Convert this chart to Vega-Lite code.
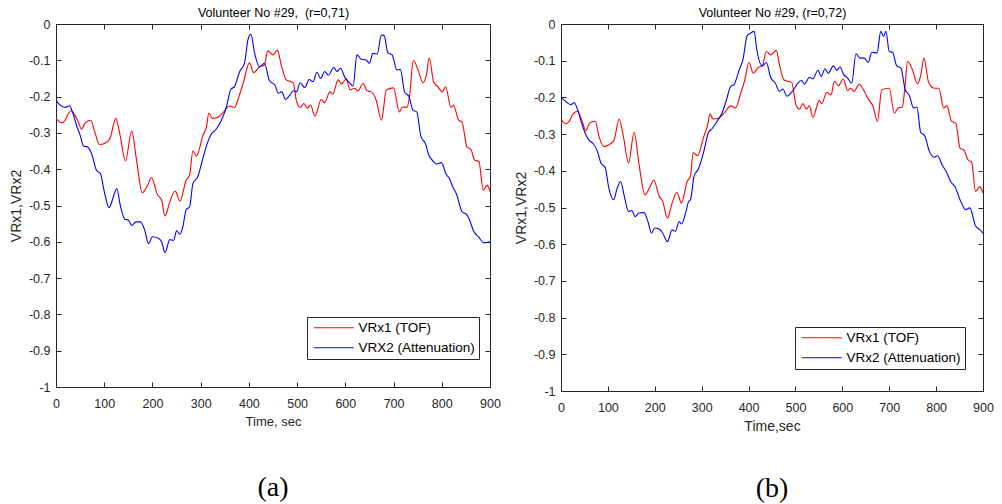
{
  "$schema": "https://vega.github.io/schema/vega-lite/v6.json",
  "background": "white",
  "padding": {"left": 8, "top": 6, "right": 5, "bottom": 5},
  "spacing": 12,
  "config": {
    "font": "Liberation Sans",
    "view": {"stroke": "#262626", "strokeWidth": 1},
    "axis": {"grid": false, "labelFlush": false, "labelColor": "#262626", "titleColor": "#262626", "tickColor": "#262626", "labelFontSize": 12.5, "titleFontSize": 13, "titleFontWeight": "normal", "domain": false, "tickSize": -5, "labelFont": "Liberation Sans", "titleFont": "Liberation Sans"},
    "legend": {"labelFont": "Liberation Sans"}
  },
  "hconcat": [
    {
      "width": 434, "height": 363,
      "title": {"text": "(a)", "orient": "bottom", "font": "Liberation Serif", "fontSize": 28, "fontWeight": "normal", "color": "#000000", "offset": 45},
      "layer": [
        {
          "data": {"values": [
            {"s":"VRx1 (TOF)","t":0,"v":-0.26},{"s":"VRx1 (TOF)","t":12,"v":-0.272},{"s":"VRx1 (TOF)","t":19,"v":-0.265},{"s":"VRx1 (TOF)","t":26,"v":-0.246},{"s":"VRx1 (TOF)","t":32,"v":-0.239},{"s":"VRx1 (TOF)","t":39,"v":-0.251},{"s":"VRx1 (TOF)","t":46,"v":-0.269},{"s":"VRx1 (TOF)","t":53,"v":-0.29},{"s":"VRx1 (TOF)","t":60,"v":-0.274},{"s":"VRx1 (TOF)","t":72,"v":-0.265},{"s":"VRx1 (TOF)","t":81,"v":-0.30},{"s":"VRx1 (TOF)","t":90,"v":-0.332},{"s":"VRx1 (TOF)","t":101,"v":-0.329},{"s":"VRx1 (TOF)","t":112,"v":-0.315},{"s":"VRx1 (TOF)","t":124,"v":-0.26},{"s":"VRx1 (TOF)","t":132,"v":-0.30},{"s":"VRx1 (TOF)","t":144,"v":-0.377},{"s":"VRx1 (TOF)","t":157,"v":-0.295},{"s":"VRx1 (TOF)","t":167,"v":-0.375},{"s":"VRx1 (TOF)","t":179,"v":-0.465},{"s":"VRx1 (TOF)","t":190,"v":-0.444},{"s":"VRx1 (TOF)","t":198,"v":-0.423},{"s":"VRx1 (TOF)","t":210,"v":-0.469},{"s":"VRx1 (TOF)","t":219,"v":-0.485},{"s":"VRx1 (TOF)","t":226,"v":-0.529},{"s":"VRx1 (TOF)","t":236,"v":-0.49},{"s":"VRx1 (TOF)","t":247,"v":-0.46},{"s":"VRx1 (TOF)","t":257,"v":-0.488},{"s":"VRx1 (TOF)","t":270,"v":-0.43},{"s":"VRx1 (TOF)","t":277,"v":-0.416},{"s":"VRx1 (TOF)","t":284,"v":-0.349},{"s":"VRx1 (TOF)","t":291,"v":-0.364},{"s":"VRx1 (TOF)","t":305,"v":-0.306},{"s":"VRx1 (TOF)","t":312,"v":-0.283},{"s":"VRx1 (TOF)","t":317,"v":-0.245},{"s":"VRx1 (TOF)","t":324,"v":-0.26},{"s":"VRx1 (TOF)","t":336,"v":-0.257},{"s":"VRx1 (TOF)","t":346,"v":-0.245},{"s":"VRx1 (TOF)","t":360,"v":-0.226},{"s":"VRx1 (TOF)","t":370,"v":-0.23},{"s":"VRx1 (TOF)","t":381,"v":-0.193},{"s":"VRx1 (TOF)","t":389,"v":-0.159},{"s":"VRx1 (TOF)","t":401,"v":-0.107},{"s":"VRx1 (TOF)","t":410,"v":-0.134},{"s":"VRx1 (TOF)","t":422,"v":-0.118},{"s":"VRx1 (TOF)","t":432,"v":-0.113},{"s":"VRx1 (TOF)","t":439,"v":-0.074},{"s":"VRx1 (TOF)","t":450,"v":-0.085},{"s":"VRx1 (TOF)","t":459,"v":-0.072},{"s":"VRx1 (TOF)","t":468,"v":-0.118},{"s":"VRx1 (TOF)","t":477,"v":-0.153},{"s":"VRx1 (TOF)","t":492,"v":-0.162},{"s":"VRx1 (TOF)","t":499,"v":-0.214},{"s":"VRx1 (TOF)","t":507,"v":-0.23},{"s":"VRx1 (TOF)","t":514,"v":-0.219},{"s":"VRx1 (TOF)","t":521,"v":-0.232},{"s":"VRx1 (TOF)","t":528,"v":-0.223},{"s":"VRx1 (TOF)","t":537,"v":-0.254},{"s":"VRx1 (TOF)","t":550,"v":-0.208},{"s":"VRx1 (TOF)","t":557,"v":-0.217},{"s":"VRx1 (TOF)","t":568,"v":-0.187},{"s":"VRx1 (TOF)","t":574,"v":-0.193},{"s":"VRx1 (TOF)","t":585,"v":-0.154},{"s":"VRx1 (TOF)","t":592,"v":-0.165},{"s":"VRx1 (TOF)","t":602,"v":-0.151},{"s":"VRx1 (TOF)","t":610,"v":-0.182},{"s":"VRx1 (TOF)","t":619,"v":-0.177},{"s":"VRx1 (TOF)","t":626,"v":-0.184},{"s":"VRx1 (TOF)","t":637,"v":-0.164},{"s":"VRx1 (TOF)","t":645,"v":-0.184},{"s":"VRx1 (TOF)","t":654,"v":-0.187},{"s":"VRx1 (TOF)","t":664,"v":-0.21},{"s":"VRx1 (TOF)","t":675,"v":-0.265},{"s":"VRx1 (TOF)","t":685,"v":-0.182},{"s":"VRx1 (TOF)","t":700,"v":-0.176},{"s":"VRx1 (TOF)","t":712,"v":-0.242},{"s":"VRx1 (TOF)","t":719,"v":-0.228},{"s":"VRx1 (TOF)","t":728,"v":-0.23},{"s":"VRx1 (TOF)","t":733,"v":-0.20},{"s":"VRx1 (TOF)","t":741,"v":-0.101},{"s":"VRx1 (TOF)","t":751,"v":-0.127},{"s":"VRx1 (TOF)","t":761,"v":-0.162},{"s":"VRx1 (TOF)","t":768,"v":-0.141},{"s":"VRx1 (TOF)","t":774,"v":-0.093},{"s":"VRx1 (TOF)","t":783,"v":-0.159},{"s":"VRx1 (TOF)","t":792,"v":-0.173},{"s":"VRx1 (TOF)","t":801,"v":-0.187},{"s":"VRx1 (TOF)","t":808,"v":-0.173},{"s":"VRx1 (TOF)","t":819,"v":-0.23},{"s":"VRx1 (TOF)","t":824,"v":-0.223},{"s":"VRx1 (TOF)","t":835,"v":-0.265},{"s":"VRx1 (TOF)","t":842,"v":-0.27},{"s":"VRx1 (TOF)","t":852,"v":-0.338},{"s":"VRx1 (TOF)","t":861,"v":-0.347},{"s":"VRx1 (TOF)","t":868,"v":-0.375},{"s":"VRx1 (TOF)","t":877,"v":-0.379},{"s":"VRx1 (TOF)","t":886,"v":-0.458},{"s":"VRx1 (TOF)","t":894,"v":-0.444},{"s":"VRx1 (TOF)","t":900,"v":-0.462}
          ]},
          "mark": {"type": "line", "interpolate": "monotone", "strokeWidth": 1.1, "clip": true},
          "encoding": {
            "x": {"field": "t", "type": "quantitative", "scale": {"domain": [0, 900], "nice": false}, "axis": {"orient": "bottom", "title": "Time, sec", "values": [0,100,200,300,400,500,600,700,800,900], "labelPadding": 15, "titlePadding": 6}},
            "y": {"field": "v", "type": "quantitative", "scale": {"domain": [-1, 0], "nice": false}, "axis": {"orient": "left", "title": "VRx1,VRx2", "titleFontSize": 14, "values": [0,-0.1,-0.2,-0.3,-0.4,-0.5,-0.6,-0.7,-0.8,-0.9,-1], "labelExpr": "'' + datum.value", "labelPadding": 11, "titlePadding": 5}},
            "color": {"field": "s", "type": "nominal", "scale": {"domain": ["VRx1 (TOF)", "VRX2 (Attenuation)"], "range": ["#ff0000", "#0000ff"]},
              "legend": {"title": null, "orient": "none", "legendX": 251, "legendY": 293, "direction": "vertical", "symbolType": "M-1,0H9", "symbolSize": 64, "symbolStrokeWidth": 1.2, "strokeColor": "#262626", "fillColor": "#ffffff", "padding": 4, "labelFontSize": 13.5, "labelColor": "#000000", "rowPadding": 5, "labelOffset": 34}}
          }
        },
        {
          "data": {"values": [
            {"s":"VRX2 (Attenuation)","t":0,"v":-0.21},{"s":"VRX2 (Attenuation)","t":8,"v":-0.223},{"s":"VRX2 (Attenuation)","t":19,"v":-0.23},{"s":"VRX2 (Attenuation)","t":28,"v":-0.225},{"s":"VRX2 (Attenuation)","t":34,"v":-0.242},{"s":"VRX2 (Attenuation)","t":43,"v":-0.281},{"s":"VRX2 (Attenuation)","t":50,"v":-0.306},{"s":"VRX2 (Attenuation)","t":57,"v":-0.336},{"s":"VRX2 (Attenuation)","t":65,"v":-0.338},{"s":"VRX2 (Attenuation)","t":74,"v":-0.358},{"s":"VRX2 (Attenuation)","t":84,"v":-0.403},{"s":"VRX2 (Attenuation)","t":92,"v":-0.412},{"s":"VRX2 (Attenuation)","t":101,"v":-0.467},{"s":"VRX2 (Attenuation)","t":110,"v":-0.506},{"s":"VRX2 (Attenuation)","t":119,"v":-0.476},{"s":"VRX2 (Attenuation)","t":126,"v":-0.453},{"s":"VRX2 (Attenuation)","t":134,"v":-0.504},{"s":"VRX2 (Attenuation)","t":143,"v":-0.538},{"s":"VRX2 (Attenuation)","t":150,"v":-0.54},{"s":"VRX2 (Attenuation)","t":157,"v":-0.555},{"s":"VRX2 (Attenuation)","t":166,"v":-0.545},{"s":"VRX2 (Attenuation)","t":175,"v":-0.545},{"s":"VRX2 (Attenuation)","t":184,"v":-0.568},{"s":"VRX2 (Attenuation)","t":192,"v":-0.605},{"s":"VRX2 (Attenuation)","t":200,"v":-0.586},{"s":"VRX2 (Attenuation)","t":212,"v":-0.59},{"s":"VRX2 (Attenuation)","t":219,"v":-0.6},{"s":"VRX2 (Attenuation)","t":226,"v":-0.63},{"s":"VRX2 (Attenuation)","t":236,"v":-0.594},{"s":"VRX2 (Attenuation)","t":244,"v":-0.596},{"s":"VRX2 (Attenuation)","t":250,"v":-0.57},{"s":"VRX2 (Attenuation)","t":257,"v":-0.579},{"s":"VRX2 (Attenuation)","t":263,"v":-0.559},{"s":"VRX2 (Attenuation)","t":270,"v":-0.511},{"s":"VRX2 (Attenuation)","t":277,"v":-0.504},{"s":"VRX2 (Attenuation)","t":284,"v":-0.439},{"s":"VRX2 (Attenuation)","t":294,"v":-0.421},{"s":"VRX2 (Attenuation)","t":305,"v":-0.368},{"s":"VRX2 (Attenuation)","t":315,"v":-0.324},{"s":"VRX2 (Attenuation)","t":322,"v":-0.303},{"s":"VRX2 (Attenuation)","t":332,"v":-0.29},{"s":"VRX2 (Attenuation)","t":343,"v":-0.265},{"s":"VRX2 (Attenuation)","t":353,"v":-0.23},{"s":"VRX2 (Attenuation)","t":363,"v":-0.179},{"s":"VRX2 (Attenuation)","t":370,"v":-0.173},{"s":"VRX2 (Attenuation)","t":381,"v":-0.131},{"s":"VRX2 (Attenuation)","t":391,"v":-0.108},{"s":"VRX2 (Attenuation)","t":398,"v":-0.044},{"s":"VRX2 (Attenuation)","t":404,"v":-0.028},{"s":"VRX2 (Attenuation)","t":412,"v":-0.081},{"s":"VRX2 (Attenuation)","t":422,"v":-0.118},{"s":"VRX2 (Attenuation)","t":432,"v":-0.108},{"s":"VRX2 (Attenuation)","t":443,"v":-0.157},{"s":"VRX2 (Attenuation)","t":454,"v":-0.168},{"s":"VRX2 (Attenuation)","t":461,"v":-0.191},{"s":"VRX2 (Attenuation)","t":468,"v":-0.187},{"s":"VRX2 (Attenuation)","t":476,"v":-0.208},{"s":"VRX2 (Attenuation)","t":485,"v":-0.196},{"s":"VRX2 (Attenuation)","t":492,"v":-0.184},{"s":"VRX2 (Attenuation)","t":499,"v":-0.187},{"s":"VRX2 (Attenuation)","t":506,"v":-0.162},{"s":"VRX2 (Attenuation)","t":516,"v":-0.175},{"s":"VRX2 (Attenuation)","t":525,"v":-0.153},{"s":"VRX2 (Attenuation)","t":533,"v":-0.159},{"s":"VRX2 (Attenuation)","t":541,"v":-0.133},{"s":"VRX2 (Attenuation)","t":549,"v":-0.15},{"s":"VRX2 (Attenuation)","t":557,"v":-0.131},{"s":"VRX2 (Attenuation)","t":565,"v":-0.141},{"s":"VRX2 (Attenuation)","t":576,"v":-0.12},{"s":"VRX2 (Attenuation)","t":583,"v":-0.131},{"s":"VRX2 (Attenuation)","t":590,"v":-0.122},{"s":"VRX2 (Attenuation)","t":599,"v":-0.147},{"s":"VRX2 (Attenuation)","t":609,"v":-0.162},{"s":"VRX2 (Attenuation)","t":616,"v":-0.171},{"s":"VRX2 (Attenuation)","t":624,"v":-0.085},{"s":"VRX2 (Attenuation)","t":633,"v":-0.097},{"s":"VRX2 (Attenuation)","t":643,"v":-0.099},{"s":"VRX2 (Attenuation)","t":650,"v":-0.108},{"s":"VRX2 (Attenuation)","t":657,"v":-0.081},{"s":"VRX2 (Attenuation)","t":666,"v":-0.083},{"s":"VRX2 (Attenuation)","t":675,"v":-0.03},{"s":"VRX2 (Attenuation)","t":681,"v":-0.033},{"s":"VRX2 (Attenuation)","t":688,"v":-0.079},{"s":"VRX2 (Attenuation)","t":697,"v":-0.085},{"s":"VRX2 (Attenuation)","t":707,"v":-0.127},{"s":"VRX2 (Attenuation)","t":714,"v":-0.125},{"s":"VRX2 (Attenuation)","t":723,"v":-0.187},{"s":"VRX2 (Attenuation)","t":732,"v":-0.2},{"s":"VRX2 (Attenuation)","t":740,"v":-0.237},{"s":"VRX2 (Attenuation)","t":748,"v":-0.242},{"s":"VRX2 (Attenuation)","t":757,"v":-0.311},{"s":"VRX2 (Attenuation)","t":766,"v":-0.329},{"s":"VRX2 (Attenuation)","t":773,"v":-0.361},{"s":"VRX2 (Attenuation)","t":783,"v":-0.379},{"s":"VRX2 (Attenuation)","t":788,"v":-0.386},{"s":"VRX2 (Attenuation)","t":799,"v":-0.382},{"s":"VRX2 (Attenuation)","t":809,"v":-0.414},{"s":"VRX2 (Attenuation)","t":816,"v":-0.426},{"s":"VRX2 (Attenuation)","t":823,"v":-0.45},{"s":"VRX2 (Attenuation)","t":830,"v":-0.467},{"s":"VRX2 (Attenuation)","t":842,"v":-0.517},{"s":"VRX2 (Attenuation)","t":851,"v":-0.524},{"s":"VRX2 (Attenuation)","t":857,"v":-0.538},{"s":"VRX2 (Attenuation)","t":866,"v":-0.57},{"s":"VRX2 (Attenuation)","t":877,"v":-0.588},{"s":"VRX2 (Attenuation)","t":888,"v":-0.603},{"s":"VRX2 (Attenuation)","t":900,"v":-0.6}
          ]},
          "mark": {"type": "line", "interpolate": "monotone", "strokeWidth": 1.1, "clip": true},
          "encoding": {
            "x": {"field": "t", "type": "quantitative", "scale": {"domain": [0, 900], "nice": false}, "axis": {"orient": "top", "title": "Volunteer No #29,\u00a0 (r=0,71)", "titleFontSize": 12.5, "labels": false, "values": [0,100,200,300,400,500,600,700,800,900], "titlePadding": 4, "titleColor": "#000000"}},
            "y": {"field": "v", "type": "quantitative", "scale": {"domain": [-1, 0], "nice": false}, "axis": {"orient": "right", "title": null, "labels": false, "values": [0,-0.1,-0.2,-0.3,-0.4,-0.5,-0.6,-0.7,-0.8,-0.9,-1]}},
            "color": {"field": "s", "type": "nominal", "scale": {"domain": ["VRx1 (TOF)", "VRX2 (Attenuation)"], "range": ["#ff0000", "#0000ff"]}}
          }
        }
      ],
      "resolve": {"axis": {"x": "independent", "y": "independent"}}
    },
    {
      "width": 422, "height": 367,
      "title": {"text": "(b)", "orient": "bottom", "font": "Liberation Serif", "fontSize": 28, "fontWeight": "normal", "color": "#000000", "offset": 41},
      "layer": [
        {
          "data": {"values": [
            {"s":"VRx1 (TOF)","t":0,"v":-0.259},{"s":"VRx1 (TOF)","t":10,"v":-0.272},{"s":"VRx1 (TOF)","t":17,"v":-0.266},{"s":"VRx1 (TOF)","t":26,"v":-0.245},{"s":"VRx1 (TOF)","t":35,"v":-0.238},{"s":"VRx1 (TOF)","t":44,"v":-0.261},{"s":"VRx1 (TOF)","t":53,"v":-0.29},{"s":"VRx1 (TOF)","t":61,"v":-0.27},{"s":"VRx1 (TOF)","t":73,"v":-0.265},{"s":"VRx1 (TOF)","t":81,"v":-0.306},{"s":"VRx1 (TOF)","t":92,"v":-0.334},{"s":"VRx1 (TOF)","t":102,"v":-0.329},{"s":"VRx1 (TOF)","t":113,"v":-0.317},{"s":"VRx1 (TOF)","t":124,"v":-0.259},{"s":"VRx1 (TOF)","t":133,"v":-0.306},{"s":"VRx1 (TOF)","t":144,"v":-0.379},{"s":"VRx1 (TOF)","t":156,"v":-0.295},{"s":"VRx1 (TOF)","t":166,"v":-0.379},{"s":"VRx1 (TOF)","t":179,"v":-0.465},{"s":"VRx1 (TOF)","t":190,"v":-0.443},{"s":"VRx1 (TOF)","t":198,"v":-0.425},{"s":"VRx1 (TOF)","t":209,"v":-0.468},{"s":"VRx1 (TOF)","t":217,"v":-0.484},{"s":"VRx1 (TOF)","t":227,"v":-0.529},{"s":"VRx1 (TOF)","t":237,"v":-0.488},{"s":"VRx1 (TOF)","t":247,"v":-0.459},{"s":"VRx1 (TOF)","t":257,"v":-0.488},{"s":"VRx1 (TOF)","t":269,"v":-0.429},{"s":"VRx1 (TOF)","t":276,"v":-0.415},{"s":"VRx1 (TOF)","t":282,"v":-0.35},{"s":"VRx1 (TOF)","t":291,"v":-0.359},{"s":"VRx1 (TOF)","t":305,"v":-0.305},{"s":"VRx1 (TOF)","t":312,"v":-0.279},{"s":"VRx1 (TOF)","t":318,"v":-0.245},{"s":"VRx1 (TOF)","t":324,"v":-0.259},{"s":"VRx1 (TOF)","t":337,"v":-0.256},{"s":"VRx1 (TOF)","t":348,"v":-0.243},{"s":"VRx1 (TOF)","t":362,"v":-0.223},{"s":"VRx1 (TOF)","t":372,"v":-0.229},{"s":"VRx1 (TOF)","t":383,"v":-0.19},{"s":"VRx1 (TOF)","t":392,"v":-0.152},{"s":"VRx1 (TOF)","t":401,"v":-0.105},{"s":"VRx1 (TOF)","t":410,"v":-0.134},{"s":"VRx1 (TOF)","t":421,"v":-0.118},{"s":"VRx1 (TOF)","t":429,"v":-0.115},{"s":"VRx1 (TOF)","t":438,"v":-0.075},{"s":"VRx1 (TOF)","t":447,"v":-0.084},{"s":"VRx1 (TOF)","t":459,"v":-0.072},{"s":"VRx1 (TOF)","t":466,"v":-0.111},{"s":"VRx1 (TOF)","t":475,"v":-0.152},{"s":"VRx1 (TOF)","t":484,"v":-0.156},{"s":"VRx1 (TOF)","t":492,"v":-0.159},{"s":"VRx1 (TOF)","t":501,"v":-0.22},{"s":"VRx1 (TOF)","t":509,"v":-0.232},{"s":"VRx1 (TOF)","t":516,"v":-0.217},{"s":"VRx1 (TOF)","t":523,"v":-0.232},{"s":"VRx1 (TOF)","t":530,"v":-0.223},{"s":"VRx1 (TOF)","t":537,"v":-0.254},{"s":"VRx1 (TOF)","t":551,"v":-0.208},{"s":"VRx1 (TOF)","t":556,"v":-0.217},{"s":"VRx1 (TOF)","t":567,"v":-0.186},{"s":"VRx1 (TOF)","t":576,"v":-0.193},{"s":"VRx1 (TOF)","t":583,"v":-0.156},{"s":"VRx1 (TOF)","t":592,"v":-0.168},{"s":"VRx1 (TOF)","t":602,"v":-0.15},{"s":"VRx1 (TOF)","t":611,"v":-0.181},{"s":"VRx1 (TOF)","t":618,"v":-0.175},{"s":"VRx1 (TOF)","t":625,"v":-0.184},{"s":"VRx1 (TOF)","t":636,"v":-0.164},{"s":"VRx1 (TOF)","t":647,"v":-0.184},{"s":"VRx1 (TOF)","t":656,"v":-0.206},{"s":"VRx1 (TOF)","t":665,"v":-0.223},{"s":"VRx1 (TOF)","t":675,"v":-0.265},{"s":"VRx1 (TOF)","t":684,"v":-0.179},{"s":"VRx1 (TOF)","t":700,"v":-0.175},{"s":"VRx1 (TOF)","t":711,"v":-0.243},{"s":"VRx1 (TOF)","t":719,"v":-0.229},{"s":"VRx1 (TOF)","t":728,"v":-0.226},{"s":"VRx1 (TOF)","t":733,"v":-0.179},{"s":"VRx1 (TOF)","t":739,"v":-0.102},{"s":"VRx1 (TOF)","t":750,"v":-0.126},{"s":"VRx1 (TOF)","t":760,"v":-0.163},{"s":"VRx1 (TOF)","t":767,"v":-0.141},{"s":"VRx1 (TOF)","t":774,"v":-0.093},{"s":"VRx1 (TOF)","t":784,"v":-0.159},{"s":"VRx1 (TOF)","t":796,"v":-0.175},{"s":"VRx1 (TOF)","t":806,"v":-0.175},{"s":"VRx1 (TOF)","t":816,"v":-0.229},{"s":"VRx1 (TOF)","t":823,"v":-0.223},{"s":"VRx1 (TOF)","t":833,"v":-0.265},{"s":"VRx1 (TOF)","t":842,"v":-0.27},{"s":"VRx1 (TOF)","t":851,"v":-0.338},{"s":"VRx1 (TOF)","t":860,"v":-0.345},{"s":"VRx1 (TOF)","t":868,"v":-0.37},{"s":"VRx1 (TOF)","t":876,"v":-0.377},{"s":"VRx1 (TOF)","t":884,"v":-0.456},{"s":"VRx1 (TOF)","t":893,"v":-0.443},{"s":"VRx1 (TOF)","t":900,"v":-0.461}
          ]},
          "mark": {"type": "line", "interpolate": "monotone", "strokeWidth": 1.1, "clip": true},
          "encoding": {
            "x": {"field": "t", "type": "quantitative", "scale": {"domain": [0, 900], "nice": false}, "axis": {"orient": "bottom", "title": "Time,sec", "titleFontSize": 14, "values": [0,100,200,300,400,500,600,700,800,900], "labelPadding": 15, "titlePadding": 6}},
            "y": {"field": "v", "type": "quantitative", "scale": {"domain": [-1, 0], "nice": false}, "axis": {"orient": "left", "title": "VRx1,VRx2", "titleFontSize": 14, "values": [0,-0.1,-0.2,-0.3,-0.4,-0.5,-0.6,-0.7,-0.8,-0.9,-1], "labelExpr": "'' + datum.value", "labelPadding": 11, "titlePadding": 5}},
            "color": {"field": "s", "type": "nominal", "scale": {"domain": ["VRx1 (TOF)", "VRx2 (Attenuation)"], "range": ["#ff0000", "#0000ff"]},
              "legend": {"title": null, "orient": "none", "legendX": 234, "legendY": 303, "direction": "vertical", "symbolType": "M-1,0H9", "symbolSize": 64, "symbolStrokeWidth": 1.2, "strokeColor": "#262626", "fillColor": "#ffffff", "padding": 4, "labelFontSize": 13.5, "labelColor": "#000000", "rowPadding": 5, "labelOffset": 34}}
          }
        },
        {
          "data": {"values": [
            {"s":"VRx2 (Attenuation)","t":0,"v":-0.199},{"s":"VRx2 (Attenuation)","t":10,"v":-0.211},{"s":"VRx2 (Attenuation)","t":21,"v":-0.22},{"s":"VRx2 (Attenuation)","t":28,"v":-0.214},{"s":"VRx2 (Attenuation)","t":35,"v":-0.232},{"s":"VRx2 (Attenuation)","t":44,"v":-0.27},{"s":"VRx2 (Attenuation)","t":53,"v":-0.302},{"s":"VRx2 (Attenuation)","t":60,"v":-0.317},{"s":"VRx2 (Attenuation)","t":68,"v":-0.325},{"s":"VRx2 (Attenuation)","t":77,"v":-0.345},{"s":"VRx2 (Attenuation)","t":86,"v":-0.381},{"s":"VRx2 (Attenuation)","t":94,"v":-0.39},{"s":"VRx2 (Attenuation)","t":102,"v":-0.447},{"s":"VRx2 (Attenuation)","t":112,"v":-0.479},{"s":"VRx2 (Attenuation)","t":120,"v":-0.447},{"s":"VRx2 (Attenuation)","t":127,"v":-0.429},{"s":"VRx2 (Attenuation)","t":136,"v":-0.475},{"s":"VRx2 (Attenuation)","t":144,"v":-0.511},{"s":"VRx2 (Attenuation)","t":151,"v":-0.508},{"s":"VRx2 (Attenuation)","t":158,"v":-0.525},{"s":"VRx2 (Attenuation)","t":166,"v":-0.515},{"s":"VRx2 (Attenuation)","t":177,"v":-0.514},{"s":"VRx2 (Attenuation)","t":186,"v":-0.541},{"s":"VRx2 (Attenuation)","t":193,"v":-0.57},{"s":"VRx2 (Attenuation)","t":200,"v":-0.556},{"s":"VRx2 (Attenuation)","t":210,"v":-0.559},{"s":"VRx2 (Attenuation)","t":217,"v":-0.57},{"s":"VRx2 (Attenuation)","t":227,"v":-0.593},{"s":"VRx2 (Attenuation)","t":237,"v":-0.561},{"s":"VRx2 (Attenuation)","t":244,"v":-0.565},{"s":"VRx2 (Attenuation)","t":252,"v":-0.538},{"s":"VRx2 (Attenuation)","t":257,"v":-0.545},{"s":"VRx2 (Attenuation)","t":266,"v":-0.514},{"s":"VRx2 (Attenuation)","t":272,"v":-0.484},{"s":"VRx2 (Attenuation)","t":276,"v":-0.479},{"s":"VRx2 (Attenuation)","t":284,"v":-0.414},{"s":"VRx2 (Attenuation)","t":293,"v":-0.395},{"s":"VRx2 (Attenuation)","t":305,"v":-0.345},{"s":"VRx2 (Attenuation)","t":314,"v":-0.297},{"s":"VRx2 (Attenuation)","t":323,"v":-0.284},{"s":"VRx2 (Attenuation)","t":333,"v":-0.265},{"s":"VRx2 (Attenuation)","t":344,"v":-0.241},{"s":"VRx2 (Attenuation)","t":353,"v":-0.206},{"s":"VRx2 (Attenuation)","t":362,"v":-0.17},{"s":"VRx2 (Attenuation)","t":369,"v":-0.165},{"s":"VRx2 (Attenuation)","t":380,"v":-0.125},{"s":"VRx2 (Attenuation)","t":388,"v":-0.097},{"s":"VRx2 (Attenuation)","t":397,"v":-0.032},{"s":"VRx2 (Attenuation)","t":404,"v":-0.025},{"s":"VRx2 (Attenuation)","t":412,"v":-0.02},{"s":"VRx2 (Attenuation)","t":417,"v":-0.065},{"s":"VRx2 (Attenuation)","t":429,"v":-0.114},{"s":"VRx2 (Attenuation)","t":438,"v":-0.105},{"s":"VRx2 (Attenuation)","t":447,"v":-0.145},{"s":"VRx2 (Attenuation)","t":457,"v":-0.161},{"s":"VRx2 (Attenuation)","t":466,"v":-0.184},{"s":"VRx2 (Attenuation)","t":473,"v":-0.177},{"s":"VRx2 (Attenuation)","t":482,"v":-0.197},{"s":"VRx2 (Attenuation)","t":489,"v":-0.19},{"s":"VRx2 (Attenuation)","t":498,"v":-0.175},{"s":"VRx2 (Attenuation)","t":505,"v":-0.161},{"s":"VRx2 (Attenuation)","t":513,"v":-0.154},{"s":"VRx2 (Attenuation)","t":519,"v":-0.164},{"s":"VRx2 (Attenuation)","t":530,"v":-0.145},{"s":"VRx2 (Attenuation)","t":537,"v":-0.15},{"s":"VRx2 (Attenuation)","t":548,"v":-0.126},{"s":"VRx2 (Attenuation)","t":555,"v":-0.143},{"s":"VRx2 (Attenuation)","t":563,"v":-0.122},{"s":"VRx2 (Attenuation)","t":570,"v":-0.134},{"s":"VRx2 (Attenuation)","t":581,"v":-0.114},{"s":"VRx2 (Attenuation)","t":588,"v":-0.126},{"s":"VRx2 (Attenuation)","t":595,"v":-0.117},{"s":"VRx2 (Attenuation)","t":603,"v":-0.138},{"s":"VRx2 (Attenuation)","t":611,"v":-0.147},{"s":"VRx2 (Attenuation)","t":620,"v":-0.161},{"s":"VRx2 (Attenuation)","t":629,"v":-0.081},{"s":"VRx2 (Attenuation)","t":638,"v":-0.093},{"s":"VRx2 (Attenuation)","t":647,"v":-0.093},{"s":"VRx2 (Attenuation)","t":655,"v":-0.105},{"s":"VRx2 (Attenuation)","t":663,"v":-0.077},{"s":"VRx2 (Attenuation)","t":674,"v":-0.079},{"s":"VRx2 (Attenuation)","t":682,"v":-0.02},{"s":"VRx2 (Attenuation)","t":688,"v":-0.034},{"s":"VRx2 (Attenuation)","t":693,"v":-0.02},{"s":"VRx2 (Attenuation)","t":700,"v":-0.075},{"s":"VRx2 (Attenuation)","t":707,"v":-0.077},{"s":"VRx2 (Attenuation)","t":716,"v":-0.114},{"s":"VRx2 (Attenuation)","t":725,"v":-0.12},{"s":"VRx2 (Attenuation)","t":734,"v":-0.179},{"s":"VRx2 (Attenuation)","t":743,"v":-0.195},{"s":"VRx2 (Attenuation)","t":752,"v":-0.229},{"s":"VRx2 (Attenuation)","t":759,"v":-0.226},{"s":"VRx2 (Attenuation)","t":767,"v":-0.295},{"s":"VRx2 (Attenuation)","t":776,"v":-0.305},{"s":"VRx2 (Attenuation)","t":785,"v":-0.345},{"s":"VRx2 (Attenuation)","t":796,"v":-0.363},{"s":"VRx2 (Attenuation)","t":803,"v":-0.359},{"s":"VRx2 (Attenuation)","t":813,"v":-0.384},{"s":"VRx2 (Attenuation)","t":823,"v":-0.406},{"s":"VRx2 (Attenuation)","t":831,"v":-0.429},{"s":"VRx2 (Attenuation)","t":840,"v":-0.443},{"s":"VRx2 (Attenuation)","t":854,"v":-0.488},{"s":"VRx2 (Attenuation)","t":863,"v":-0.506},{"s":"VRx2 (Attenuation)","t":872,"v":-0.501},{"s":"VRx2 (Attenuation)","t":884,"v":-0.55},{"s":"VRx2 (Attenuation)","t":892,"v":-0.559},{"s":"VRx2 (Attenuation)","t":900,"v":-0.57}
          ]},
          "mark": {"type": "line", "interpolate": "monotone", "strokeWidth": 1.1, "clip": true},
          "encoding": {
            "x": {"field": "t", "type": "quantitative", "scale": {"domain": [0, 900], "nice": false}, "axis": {"orient": "top", "title": "Volunteer No #29, (r=0,72)", "titleFontSize": 12.5, "labels": false, "values": [0,100,200,300,400,500,600,700,800,900], "titlePadding": 4, "titleColor": "#000000"}},
            "y": {"field": "v", "type": "quantitative", "scale": {"domain": [-1, 0], "nice": false}, "axis": {"orient": "right", "title": null, "labels": false, "values": [0,-0.1,-0.2,-0.3,-0.4,-0.5,-0.6,-0.7,-0.8,-0.9,-1]}},
            "color": {"field": "s", "type": "nominal", "scale": {"domain": ["VRx1 (TOF)", "VRx2 (Attenuation)"], "range": ["#ff0000", "#0000ff"]}}
          }
        }
      ],
      "resolve": {"axis": {"x": "independent", "y": "independent"}}
    }
  ],
  "resolve": {"scale": {"color": "independent"}, "legend": {"color": "independent"}}
}
